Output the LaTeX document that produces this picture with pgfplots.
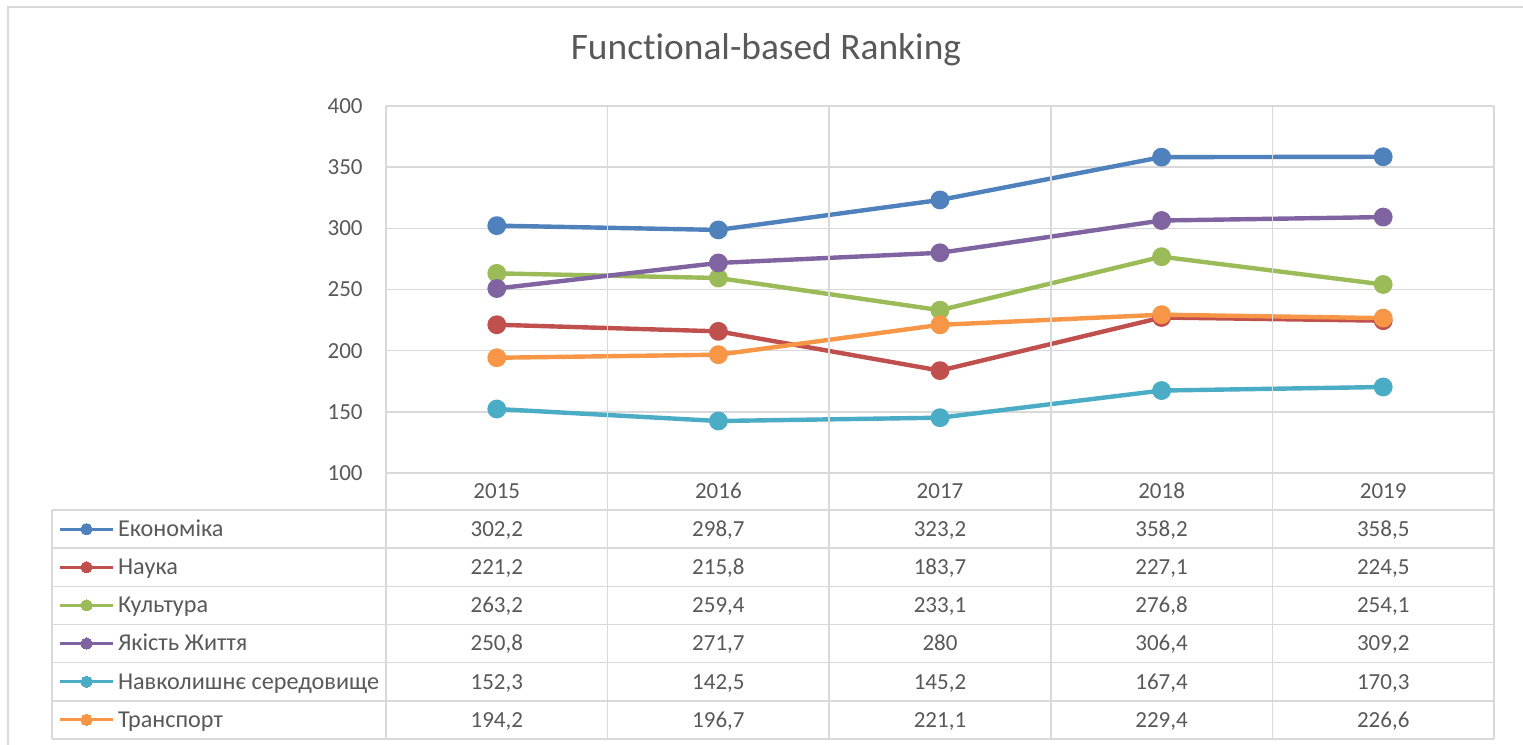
\documentclass[border=0pt]{standalone}
\usepackage{pgfplots}
\pgfplotsset{compat=1.18}
\usepackage{fontspec}
\setmainfont{Carlito}[Ligatures=NoCommon]
\definecolor{c1}{HTML}{4F81BD}
\definecolor{c2}{HTML}{C0504D}
\definecolor{c3}{HTML}{9BBB59}
\definecolor{c4}{HTML}{8064A2}
\definecolor{c5}{HTML}{4BACC6}
\definecolor{c6}{HTML}{F79646}
\definecolor{gridc}{HTML}{D9D9D9}
\definecolor{txt}{HTML}{595959}
\newcommand{\tv}[3]{\node[anchor=base,text=txt,font=\fontsize{11.5}{13}\selectfont,inner sep=0pt] at (#1pt,#2pt) {#3};}
\begin{document}
\begin{tikzpicture}
\useasboundingbox (0,0) rectangle (761.5pt,372.5pt);
\fill[white] (0,0) rectangle (761.5pt,372.5pt);
\draw[gridc, line width=0.8pt] (4pt,0) -- (4pt,369pt) -- (761.5pt,369pt);
\node[anchor=base, text=txt, font=\fontsize{18.7}{22}\selectfont, inner sep=0pt] at (383pt,342.5pt) {Functional-based Ranking};
\begin{axis}[
  at={(193pt,136pt)}, anchor=south west,
  width=554pt, height=183.5pt, scale only axis,
  xmin=-0.5, xmax=4.5, ymin=100, ymax=400,
  xtick={0,1,2,3,4}, xticklabels={2015,2016,2017,2018,2019},
  ytick={100,150,...,400},
  ymajorgrids,
  grid style={gridc, line width=0.75pt},
  axis line style={draw=none},
  major tick length=0pt,
  tick label style={text=txt, font=\fontsize{11.5}{13}\selectfont},
  /pgf/number format/assume math mode=true,
  xticklabel style={anchor=center, yshift=-9pt},
  yticklabel style={anchor=east, inner sep=0pt, xshift=-11.5pt},
  clip=false,
  every axis plot/.append style={line width=2.2pt, mark=*, mark size=3.6pt, line join=round},
  legend cell align=left,
  legend style={at={(-0.2960,-0.1008)}, anchor=north west, draw=none, fill=none,
    inner sep=0pt, outer sep=0pt, row sep=0pt, column sep=2pt,
    nodes={inner sep=0pt, text height=13.24pt, text depth=5.84pt, text=txt,
      font=\fontsize{12.1}{13.5}\selectfont}},
  legend image code/.code={
    \draw[#1,line width=1.5pt] (0pt,0pt) -- (26.5pt,0pt);
    \draw[#1,line width=0pt,mark size=2.8pt] plot coordinates {(13.5pt,0pt)};
  },
]
\addplot[color=c1] coordinates {(0,302.2) (1,298.7) (2,323.2) (3,358.2) (4,358.5)};
\addlegendentry{Економіка}
\addplot[color=c2] coordinates {(0,221.2) (1,215.8) (2,183.7) (3,227.1) (4,224.5)};
\addlegendentry{Наука}
\addplot[color=c3] coordinates {(0,263.2) (1,259.4) (2,233.1) (3,276.8) (4,254.1)};
\addlegendentry{Культура}
\addplot[color=c4] coordinates {(0,250.8) (1,271.7) (2,280) (3,306.4) (4,309.2)};
\addlegendentry{Якість Життя}
\addplot[color=c5] coordinates {(0,152.3) (1,142.5) (2,145.2) (3,167.4) (4,170.3)};
\addlegendentry{Навколишнє середовище}
\addplot[color=c6] coordinates {(0,194.2) (1,196.7) (2,221.1) (3,229.4) (4,226.6)};
\addlegendentry{Транспорт}
\end{axis}
% table grid
\foreach \x in {193,303.8,414.6,525.4,636.2,747} {\draw[gridc, line width=0.75pt] (\x pt,319.5pt) -- (\x pt,3pt);}
\draw[gridc, line width=0.75pt] (26pt,117.5pt) -- (26pt,3pt);
\foreach \y in {117.5,98.417,79.333,60.25,41.167,22.083,3} {\draw[gridc, line width=0.75pt] (26pt,\y pt) -- (747pt,\y pt);}
% values
\tv{248.4}{104.26}{302,2}\tv{359.2}{104.26}{298,7}\tv{470}{104.26}{323,2}\tv{580.8}{104.26}{358,2}\tv{691.6}{104.26}{358,5}
\tv{248.4}{85.18}{221,2}\tv{359.2}{85.18}{215,8}\tv{470}{85.18}{183,7}\tv{580.8}{85.18}{227,1}\tv{691.6}{85.18}{224,5}
\tv{248.4}{66.09}{263,2}\tv{359.2}{66.09}{259,4}\tv{470}{66.09}{233,1}\tv{580.8}{66.09}{276,8}\tv{691.6}{66.09}{254,1}
\tv{248.4}{47.01}{250,8}\tv{359.2}{47.01}{271,7}\tv{470}{47.01}{280}\tv{580.8}{47.01}{306,4}\tv{691.6}{47.01}{309,2}
\tv{248.4}{27.92}{152,3}\tv{359.2}{27.92}{142,5}\tv{470}{27.92}{145,2}\tv{580.8}{27.92}{167,4}\tv{691.6}{27.92}{170,3}
\tv{248.4}{8.84}{194,2}\tv{359.2}{8.84}{196,7}\tv{470}{8.84}{221,1}\tv{580.8}{8.84}{229,4}\tv{691.6}{8.84}{226,6}
\end{tikzpicture}
\end{document}
